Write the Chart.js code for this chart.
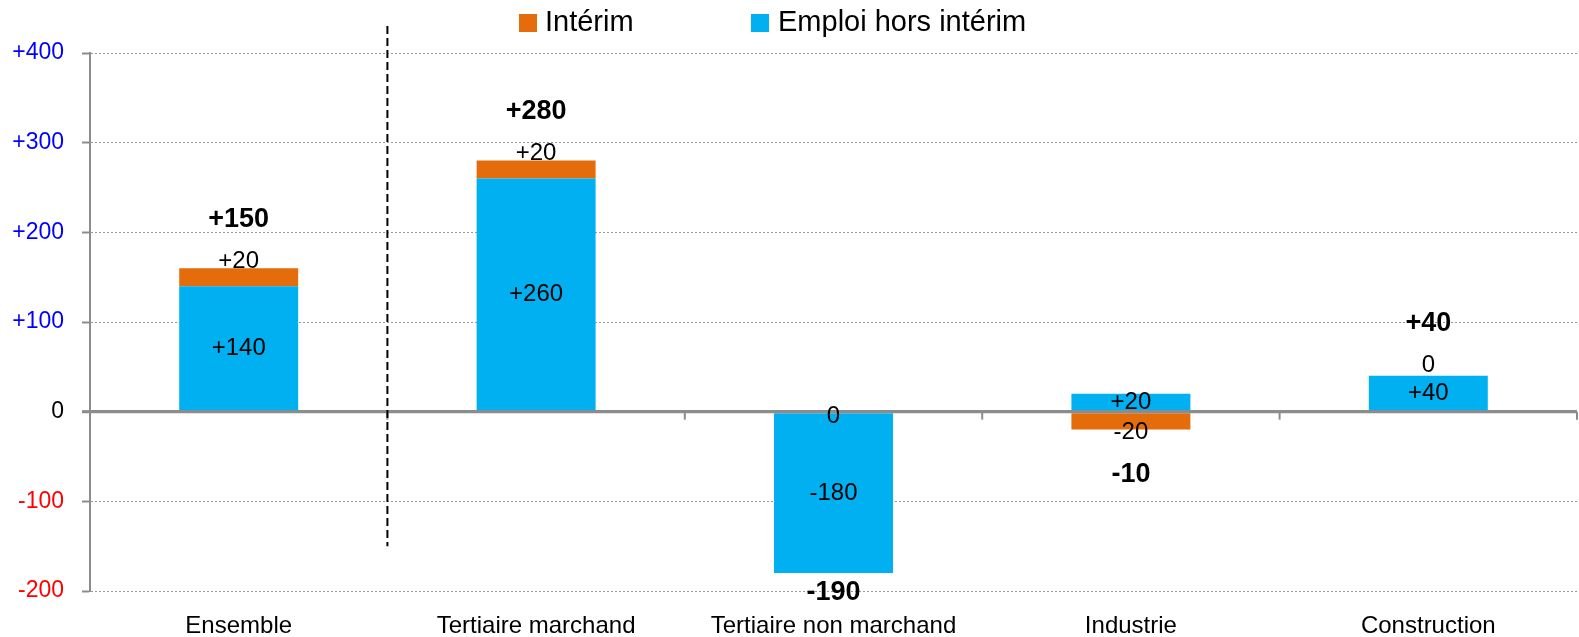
<!DOCTYPE html>
<html>
<head>
<meta charset="utf-8">
<script src="https://cdn.jsdelivr.net/npm/chart.js@4.4.1/dist/chart.umd.min.js"></script>
<style>
html,body{margin:0;padding:0;background:#fff;}
#wrap{width:1579px;height:637px;}
</style>
</head>
<body>
<div id="wrap"><canvas id="c" width="1579" height="637"></canvas></div>
<script>
const categories = ['Ensemble', 'Tertiaire marchand', 'Tertiaire non marchand', 'Industrie', 'Construction'];
const horsInterim = [140, 260, -180, 20, 40];
const interim = [20, 20, 0, -20, 0];
const totals = [150, 280, -190, -10, 40];
const yTicks = [-200, -100, 0, 100, 200, 300, 400];
const seriesNames = ['Emploi hors intérim', 'Intérim'];

const BLUE = '#00B0F0';
const ORANGE = '#E46C0A';
const AXIS = '#8c8c8c';
const FONT = '"Liberation Sans", Arial, sans-serif';

const fmt = v => v > 0 ? '+' + v : String(v);

const overlay = {
  id: 'overlay',
  afterDatasetsDraw(chart) {
    const {ctx, chartArea: a, scales: {x, y}} = chart;
    const hors = chart.getDatasetMeta(0).data;
    const intr = chart.getDatasetMeta(1).data;
    const catW = x.getPixelForValue(1) - x.getPixelForValue(0);
    const y0 = y.getPixelForValue(0);
    ctx.save();
    // zero line over bars
    ctx.strokeStyle = AXIS; ctx.lineWidth = 3;
    ctx.beginPath(); ctx.moveTo(a.left - 8, y0); ctx.lineTo(a.right, y0); ctx.stroke();
    // category tick marks on zero line
    ctx.lineWidth = 2;
    for (let i = 0; i <= categories.length; i++) {
      const xx = x.getPixelForValue(0) - catW / 2 + i * catW;
      ctx.beginPath(); ctx.moveTo(xx, y0); ctx.lineTo(xx, y0 + 8); ctx.stroke();
    }
    // dashed separator after "Ensemble"
    const sx = x.getPixelForValue(0) + catW / 2;
    ctx.setLineDash([8, 4]); ctx.strokeStyle = '#000'; ctx.lineWidth = 2;
    ctx.beginPath(); ctx.moveTo(sx, y.getPixelForValue(430)); ctx.lineTo(sx, y.getPixelForValue(-150)); ctx.stroke();
    ctx.setLineDash([]);
    // labels
    ctx.textAlign = 'center'; ctx.textBaseline = 'middle'; ctx.fillStyle = '#000';
    categories.forEach((c, i) => {
      const cx = hors[i].x;
      const hv = horsInterim[i], iv = interim[i];
      ctx.font = '24px ' + FONT;
      ctx.fillText(fmt(hv), cx, (hors[i].y + hors[i].base) / 2);
      let iy;
      if (iv > 0) iy = intr[i].y - 7;
      else if (iv < 0) iy = intr[i].y + 3;
      else iy = y.getPixelForValue(Math.max(0, hv)) + (hv > 0 ? -10 : 5);
      ctx.fillText(fmt(iv), cx, iy);
      const posSum = Math.max(0, hv) + Math.max(0, iv);
      const negSum = Math.min(0, hv) + Math.min(0, iv);
      let ty;
      if (totals[i] >= 0) ty = Math.min(y.getPixelForValue(posSum), iy) - 42;
      else ty = Math.max(y.getPixelForValue(negSum), iy) + 42;
      ty = Math.min(Math.max(ty, a.top), a.bottom + 2);
      ctx.font = 'bold 27px ' + FONT;
      ctx.fillText(fmt(totals[i]), cx, ty);
    });
    ctx.restore();
  },
  afterDraw(chart) {
    const {ctx} = chart;
    const items = [
      {text: chart.data.datasets[1].label, color: chart.data.datasets[1].backgroundColor, bx: 519, tx: 545},
      {text: chart.data.datasets[0].label, color: chart.data.datasets[0].backgroundColor, bx: 751, tx: 778}
    ];
    ctx.save();
    ctx.font = '29px ' + FONT;
    ctx.textBaseline = 'middle'; ctx.textAlign = 'left';
    items.forEach(it => {
      ctx.fillStyle = it.color;
      ctx.fillRect(it.bx, 14, 18, 18);
      ctx.fillStyle = '#000';
      ctx.fillText(it.text, it.tx, 23);
    });
    ctx.restore();
  }
};

new Chart(document.getElementById('c'), {
  type: 'bar',
  data: {
    labels: categories,
    datasets: [
      {label: seriesNames[0], data: horsInterim, backgroundColor: BLUE, borderWidth: 0, stack: 's'},
      {label: seriesNames[1], data: interim, backgroundColor: ORANGE, borderWidth: 0, stack: 's'}
    ]
  },
  options: {
    responsive: false,
    animation: false,
    categoryPercentage: 0.8,
    barPercentage: 0.5,
    layout: {padding: {left: 12, right: 2, top: 53, bottom: 0}},
    plugins: {legend: {display: false}, tooltip: {enabled: false}},
    scales: {
      x: {
        stacked: true,
        grid: {display: false},
        border: {display: false},
        ticks: {font: {family: FONT, size: 24}, color: '#000', padding: 13, maxRotation: 0, autoSkip: false},
        afterFit: s => { s.height = 46; }
      },
      y: {
        stacked: true,
        min: -200, max: 400,
        afterBuildTicks: s => { s.ticks = yTicks.map(v => ({value: v})); },
        afterFit: s => { s.width = 78; },
        grid: {
          color: c => c.tick && c.tick.value === 0 ? AXIS : '#999',
          lineWidth: c => c.tick && c.tick.value === 0 ? 3 : 1,
          tickLength: 8, tickColor: AXIS, tickWidth: 2
        },
        border: {display: true, color: AXIS, width: 2, dash: c => c.tick && c.tick.value === 0 ? [] : [2, 2]},
        ticks: {
          font: {family: FONT, size: 23},
          padding: 18,
          color: c => c.tick.value > 0 ? '#0000FF' : (c.tick.value < 0 ? '#FF0000' : '#000'),
          callback: v => fmt(v)
        }
      }
    }
  },
  plugins: [overlay]
});
</script>
</body>
</html>
